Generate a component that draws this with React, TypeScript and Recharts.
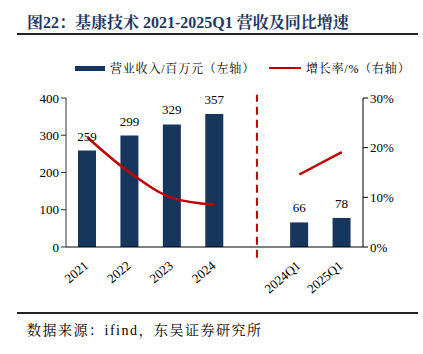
import React from 'react';
import { ComposedChart, Bar, Line, XAxis, YAxis, ReferenceLine, LabelList } from 'recharts';

const categories = ['2021', '2022', '2023', '2024', ' ', '2024Q1', '2025Q1'];
const revenue = [259, 299, 329, 357, null, 66, 78];
const growth = [0.221, 0.15, 0.099, 0.085, null, 0.146, 0.191];
const leftTicks = [0, 100, 200, 300, 400];
const rightTicks = [0, 0.1, 0.2, 0.3];

const data = categories.map((c, i) => ({ name: c, revenue: revenue[i], growth: growth[i] }));

const SERIF = '"Times New Roman", "Liberation Serif", "Noto Serif CJK SC", "Noto Sans CJK SC", serif';
const NAVY = '#17365D';
const RED = '#C00000';

const XTick = (props: any) => {
  const { x, y, payload } = props;
  return (
    <text
      x={x + 2}
      y={y + 12}
      textAnchor="end"
      transform={`rotate(-40, ${x + 2}, ${y + 12})`}
      fontFamily={SERIF}
      fontSize={13}
      fill="#000"
    >
      {payload.value}
    </text>
  );
};

export default function App() {
  return (
    <div style={{ position: 'absolute', left: 0, top: 0, width: 423, height: 354, background: '#fff', fontFamily: SERIF }}>
      <div style={{ position: 'absolute', left: 27, top: 10, fontSize: 16, fontWeight: 'bold', color: '#1F3864', whiteSpace: 'nowrap' }}>
        图22：基康技术 2021-2025Q1 营收及同比增速
      </div>
      <div style={{ position: 'absolute', left: 17, top: 33, width: 401, height: 2, background: '#222' }} />
      <div style={{ position: 'absolute', left: 75, top: 59, height: 18, display: 'flex', alignItems: 'center', fontSize: 12, letterSpacing: 0.8, whiteSpace: 'nowrap' }}>
        <span style={{ display: 'inline-block', width: 30, height: 5, background: NAVY, marginRight: 5 }} />
        <span>营业收入/百万元（左轴）</span>
        <span style={{ display: 'inline-block', width: 32, height: 2, background: RED, marginLeft: 14, marginRight: 5 }} />
        <span>增长率/%（右轴）</span>
      </div>
      <div style={{ position: 'absolute', left: 0, top: 0 }}>
        <ComposedChart width={423} height={354} data={data} margin={{ top: 98, right: 0, bottom: 57, left: 0 }}>
          <XAxis
            dataKey="name"
            tick={<XTick />}
            tickLine={false}
            axisLine={{ stroke: '#000' }}
            height={50}
            interval={0}
          />
          <YAxis
            yAxisId="left"
            domain={[0, 400]}
            ticks={leftTicks}
            width={66}
            tick={{ fontFamily: SERIF, fontSize: 13, fill: '#000' }}
            axisLine={{ stroke: '#333' }}
            tickLine={{ stroke: '#333' }}
            tickSize={5}
          />
          <YAxis
            yAxisId="right"
            orientation="right"
            domain={[0, 0.3]}
            ticks={rightTicks}
            width={60}
            tickFormatter={(v: number) => `${Math.round(v * 100)}%`}
            tick={{ fontFamily: SERIF, fontSize: 13, fill: '#000' }}
            axisLine={{ stroke: '#000' }}
            tickLine={{ stroke: '#000' }}
            tickSize={5}
          />
          <Bar yAxisId="left" dataKey="revenue" fill={NAVY} barSize={18} isAnimationActive={false}>
            <LabelList dataKey="revenue" position="top" offset={10} style={{ fontFamily: SERIF, fontSize: 13, fill: '#000' }} />
          </Bar>
          <Line
            yAxisId="right"
            dataKey="growth"
            type="monotone"
            stroke={RED}
            strokeWidth={2.5}
            dot={false}
            connectNulls={false}
            isAnimationActive={false}
          />
          <ReferenceLine
            yAxisId="left"
            segment={[{ x: ' ', y: -29 }, { x: ' ', y: 409 }]}
            stroke={RED}
            strokeWidth={2}
            strokeDasharray="8 5"
            ifOverflow="visible"
          />
        </ComposedChart>
      </div>
      <div style={{ position: 'absolute', left: 17, top: 312, width: 401, height: 1.5, background: '#222' }} />
      <div style={{ position: 'absolute', left: 27, top: 319, fontSize: 14, letterSpacing: 1.5, whiteSpace: 'nowrap' }}>
        数据来源：ifind，东吴证券研究所
      </div>
    </div>
  );
}
